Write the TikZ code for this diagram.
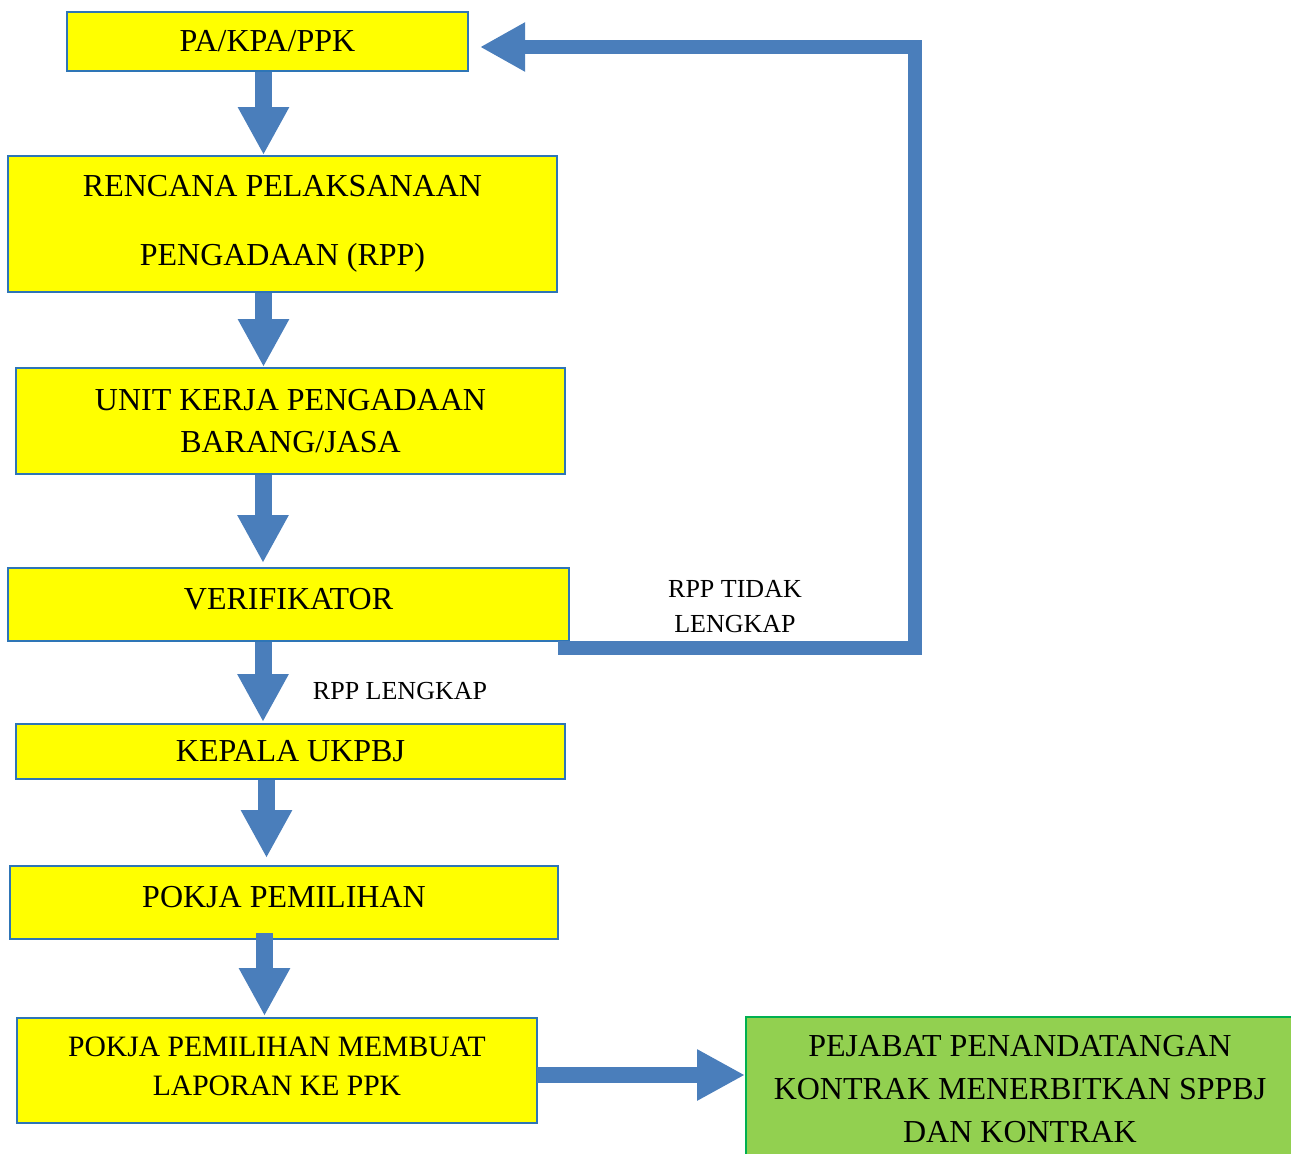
\documentclass[tikz,border=0pt]{standalone}
\usepackage{fontspec}
\setmainfont{Liberation Serif}
\usetikzlibrary{arrows.meta,calc}
\definecolor{boxyellow}{RGB}{255,255,0}
\definecolor{boxblue}{RGB}{46,117,182}
\definecolor{arrowblue}{RGB}{74,126,187}
\definecolor{boxgreen}{RGB}{146,208,80}
\definecolor{greenline}{RGB}{0,176,80}
\tikzset{
  ybox/.style={draw=boxblue, line width=2pt, fill=boxyellow, rectangle, inner sep=0pt,
    align=center, font=\fontsize{32}{42}\selectfont},
  gbox/.style={draw=greenline, line width=2pt, fill=boxgreen, rectangle, inner sep=0pt,
    align=center, font=\fontsize{32}{43}\selectfont},
  blockarrow/.style={draw=arrowblue, line width=17pt,
    -{Triangle[width=48pt,length=48pt,fill=arrowblue]}},
  feedback/.style={draw=arrowblue, line width=14pt, line join=miter,
    -{Triangle[width=46pt,length=45pt,fill=arrowblue]}},
  lbl/.style={align=center, font=\fontsize{26}{35}\selectfont, inner sep=0pt},
}
\begin{document}
\begin{tikzpicture}[x=1pt,y=-1pt]
\useasboundingbox (0,0) rectangle (1291,1154);
\begin{scope}
\clip (0,0) rectangle (1291,1154);
% boxes
\node[ybox, minimum width=401pt, minimum height=59pt] (pa) at (267.5,41.5) {PA/KPA/PPK};
\node[ybox, minimum width=549pt, minimum height=136pt, font=\fontsize{32}{69}\selectfont] (rpp) at (282.5,224) {RENCANA PELAKSANAAN\\PENGADAAN (RPP)};
\node[ybox, minimum width=549pt, minimum height=106pt] (unit) at (290.5,421) {UNIT KERJA PENGADAAN\\BARANG/JASA};
\node[ybox, minimum width=561pt, minimum height=73pt, text depth=12pt] (verif) at (288.5,604.5) {VERIFIKATOR};
\node[ybox, minimum width=549pt, minimum height=55pt, text depth=2pt] (kepala) at (290.5,751.5) {KEPALA UKPBJ};
\node[ybox, minimum width=548pt, minimum height=73pt, text depth=12pt] (pokja) at (284,902.5) {POKJA PEMILIHAN};
\node[ybox, minimum width=520pt, minimum height=105pt, font=\fontsize{29.6}{39}\selectfont, text depth=8pt] (lapor) at (277,1070.5) {POKJA PEMILIHAN MEMBUAT\\LAPORAN KE PPK};
\node[gbox, minimum width=548pt, minimum height=144pt] (ppk) at (1020,1089) {PEJABAT PENANDATANGAN\\KONTRAK MENERBITKAN SPPBJ\\DAN KONTRAK};
% labels
\node[lbl] (tidak) at (735,607) {RPP TIDAK\\LENGKAP};
\node[lbl] (lengkap) at (400,691) {RPP LENGKAP};
% helper coordinates
\coordinate (fbstart) at (558,648);
\coordinate (fbcorner) at (915,47);
\coordinate (fbend) at (480,47);
% vertical arrows
\draw[blockarrow] (pa.south -| 263.5,0) -- (rpp.north -| 263.5,0);
\draw[blockarrow] (rpp.south -| 263.5,0) -- (unit.north -| 263.5,0);
\draw[blockarrow] (unit.south -| 263,0) -- ($(verif.north -| 263,0)+(0,-4)$);
\draw[blockarrow] (verif.south -| 263,0) -- ($(kepala.north -| 263,0)+(0,-1)$);
\draw[blockarrow] (kepala.south -| 266.5,0) -- ($(pokja.north -| 266.5,0)+(0,-7)$);
\draw[blockarrow] ($(pokja.south -| 264.5,0)+(0,-7)$) -- ($(lapor.north -| 264.5,0)+(0,-1)$);
% horizontal arrow
\draw[blockarrow, line width=16pt] ($(lapor.east |- 0,1075)+(-1,0)$) -- (ppk.west |- 0,1075);
% feedback
\draw[feedback] (fbstart) -| (fbcorner) -- (fbend);
\end{scope}
\end{tikzpicture}
\end{document}
